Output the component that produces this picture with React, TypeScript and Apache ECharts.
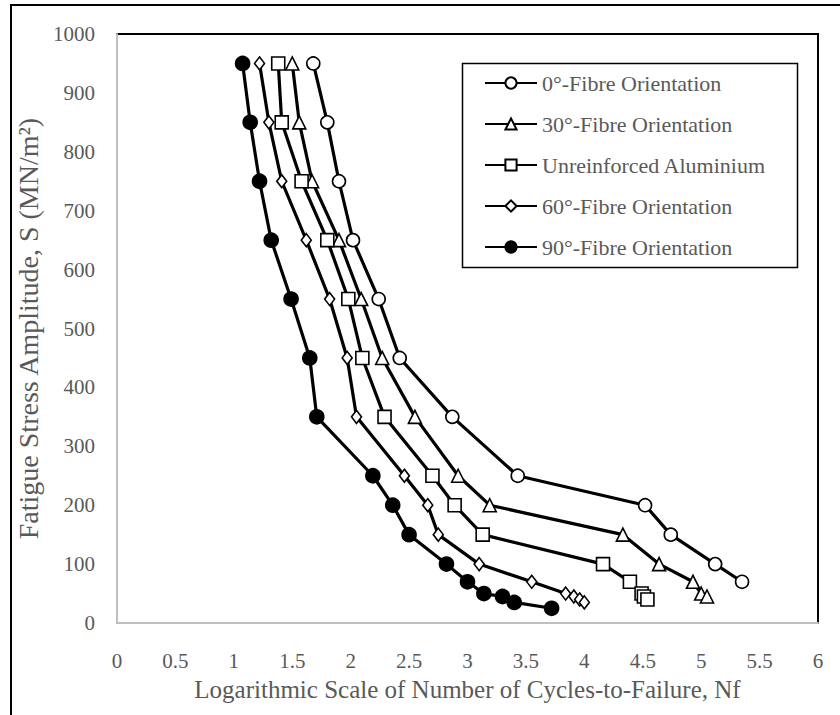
import React, { useEffect, useRef } from "react";
import * as echarts from "echarts";

const names = [
  "0°-Fibre Orientation",
  "30°-Fibre Orientation",
  "Unreinforced Aluminium",
  "60°-Fibre Orientation",
  "90°-Fibre Orientation",
];

const s0 = [950, 850, 750, 650, 550, 450, 350, 250, 200, 150, 100, 70];
const n0 = [1.68, 1.8, 1.9, 2.02, 2.24, 2.42, 2.87, 3.43, 4.52, 4.74, 5.12, 5.35];

const s30 = [950, 850, 750, 650, 550, 450, 350, 250, 200, 150, 100, 70, 50, 45];
const n30 = [1.5, 1.56, 1.67, 1.9, 2.09, 2.27, 2.55, 2.92, 3.19, 4.33, 4.64, 4.93, 5.0, 5.05];

const sUn = [950, 850, 750, 650, 550, 450, 350, 250, 200, 150, 100, 70, 50, 45, 40];
const nUn = [1.38, 1.41, 1.58, 1.8, 1.98, 2.1, 2.29, 2.7, 2.89, 3.13, 4.16, 4.39, 4.49, 4.51, 4.54];

const s60 = [950, 850, 750, 650, 550, 450, 350, 250, 200, 150, 100, 70, 50, 45, 40, 35];
const n60 = [1.22, 1.3, 1.41, 1.62, 1.82, 1.97, 2.05, 2.46, 2.66, 2.75, 3.1, 3.55, 3.84, 3.91, 3.96, 4.0];

const s90 = [950, 850, 750, 650, 550, 450, 350, 250, 200, 150, 100, 70, 50, 45, 35, 25];
const n90 = [1.075, 1.14, 1.22, 1.32, 1.49, 1.65, 1.71, 2.19, 2.36, 2.5, 2.82, 3.0, 3.14, 3.3, 3.4, 3.72];

const xTitle = "Logarithmic Scale of Number of Cycles-to-Failure, Nf";
const yTitle = "Fatigue Stress Amplitude, S (MN/m²)";

const FONT = "Liberation Serif";
const GREY = "#595959";

function pairs(xs: number[], ys: number[]) {
  return xs.map((x, i) => [x, ys[i]]);
}

export default function App() {
  const ref = useRef<HTMLDivElement>(null);
  useEffect(() => {
    if (!ref.current) return;
    const chart = echarts.init(ref.current, undefined, { renderer: "svg" });
    const mk = (
      name: string,
      data: number[][],
      symbol: string,
      size: any,
      filled: boolean
    ) => ({
      name,
      type: "line",
      data,
      symbol,
      symbolSize: size,
      showAllSymbol: true,
      lineStyle: { color: "#000", width: 3.2 },
      itemStyle: {
        color: filled ? "#000" : "#fff",
        borderColor: "#000",
        borderWidth: 1.6,
      },
      emphasis: { disabled: true },
    });
    chart.setOption({
      animation: false,
      backgroundColor: "#fff",
      grid: {
        left: 117,
        top: 34,
        right: 22,
        bottom: 92,
        show: true,
        borderColor: "#000",
        borderWidth: 2,
        backgroundColor: "#fff",
      },
      legend: {
        orient: "vertical",
        left: 479,
        top: 67,
        itemWidth: 52,
        itemHeight: 14,
        itemGap: 19,
        data: names,
        textStyle: { fontFamily: FONT, fontSize: 22, color: GREY },
      },
      xAxis: {
        type: "value",
        min: 0,
        max: 6,
        interval: 0.5,
        name: xTitle,
        nameLocation: "middle",
        nameGap: 54,
        nameTextStyle: { fontFamily: FONT, fontSize: 25, color: GREY },
        axisLine: { show: true, lineStyle: { color: "#bfbfbf", width: 2 } },
        axisTick: { show: false },
        splitLine: { show: false },
        axisLabel: { fontFamily: FONT, fontSize: 21, color: GREY, margin: 27 },
      },
      yAxis: {
        type: "value",
        min: 0,
        max: 1000,
        interval: 100,
        name: yTitle,
        nameLocation: "middle",
        nameGap: 74,
        nameTextStyle: { fontFamily: FONT, fontSize: 28, color: GREY },
        axisLine: { show: true, lineStyle: { color: "#bfbfbf", width: 2 } },
        axisTick: { show: false },
        splitLine: { show: false },
        axisLabel: {
          fontFamily: FONT,
          fontSize: 21,
          color: GREY,
          margin: 22,
          formatter: (v: number) => String(v),
        },
      },
      graphic: [
        {
          type: "rect",
          left: 460,
          top: 61,
          shape: { width: 335, height: 204 },
          style: { fill: "none", stroke: "#000", lineWidth: 1.5 },
          z: 10,
        },
        {
          type: "line",
          shape: { x1: 11, y1: 5, x2: 11, y2: 715 },
          style: { stroke: "#000", lineWidth: 2 },
        },
        {
          type: "line",
          shape: { x1: 10, y1: 5, x2: 840, y2: 5 },
          style: { stroke: "#000", lineWidth: 2 },
        },
      ],
      series: [
        mk(names[0], pairs(n0, s0), "circle", 13, false),
        mk(names[1], pairs(n30, s30), "triangle", 13, false),
        mk(names[2], pairs(nUn, sUn), "rect", 13, false),
        mk(names[3], pairs(n60, s60), "diamond", [10, 13], false),
        mk(names[4], pairs(n90, s90), "circle", 14, true),
      ],
    });
    return () => chart.dispose();
  }, []);
  return (
    <div
      ref={ref}
      style={{ position: "fixed", left: 0, top: 0, width: 840, height: 715 }}
    />
  );
}
